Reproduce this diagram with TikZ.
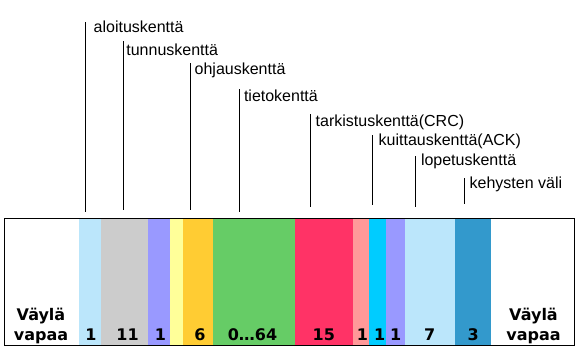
\documentclass[tikz,border=0pt]{standalone}
\usepackage{fontspec}
\setmainfont{Liberation Sans}
\newfontfamily\numfont{DejaVu Sans}
\definecolor{lblue}{HTML}{BBE6FB}
\definecolor{lgray}{HTML}{CCCCCC}
\definecolor{lpurple}{HTML}{9999FF}
\definecolor{lyellow}{HTML}{FFFF99}
\definecolor{lorange}{HTML}{FFCC33}
\definecolor{lgreen}{HTML}{66CC66}
\definecolor{lred}{HTML}{FF3366}
\definecolor{lpink}{HTML}{FF9999}
\definecolor{lcyan}{HTML}{00CCFF}
\definecolor{dblue}{HTML}{3399CC}
\begin{document}
\begin{tikzpicture}[x=1pt,y=-1pt,
  band/.style={rectangle,draw=none,inner sep=0pt,outer sep=0pt,minimum height=126.5pt,anchor=north west},
  num/.style={inner sep=0pt,anchor=base,font=\numfont\bfseries\fontsize{16}{20}\selectfont},
  lab/.style={inner sep=0pt,anchor=base west,font=\fontsize{16}{19}\selectfont},
  leader/.style={draw=black,line width=0.9pt}]
\useasboundingbox (0,0) rectangle (583,362);
% bands
\foreach \n/\a/\b/\c in {b1/79/101/lblue, b2/101/148/lgray, b3/148/170/lpurple, b4/170/183/lyellow,
  b5/183/213/lorange, b6/213/295/lgreen, b7/295/353/lred, b8/353/369/lpink, b9/369/386/lcyan,
  b10/386/405/lpurple, b11/405/455/lblue, b12/455/491/dblue}
  \node[band,fill=\c,minimum width={(\b-\a)*1pt}] (\n) at (\a,218.5) {};
% frame
\node[rectangle,draw=black,line width=1.2pt,inner sep=0pt,minimum width=570pt,minimum height=127pt,anchor=north west] (frame) at (4,218.2) {};
% numbers
\node[num] (n1) at (91,340) {1};
\node[num] (n2) at (127.5,340) {11};
\node[num] (n3) at (160.5,340) {1};
\node[num] (n4) at (200,340) {6};
\node[num] (n5) at (252.5,340) {0…64};
\node[num] (n6) at (323.8,340) {15};
\node[num] (n7) at (362.5,340) {1};
\node[num] (n8) at (379.7,340) {1};
\node[num] (n9) at (395.8,340) {1};
\node[num] (n10) at (429.7,340) {7};
\node[num] (n11) at (473.3,340) {3};
\node[num] (vl1) at (41,320) {Väylä};
\node[num] (vl2) at (41,340) {vapaa};
\node[num] (vr1) at (533.5,320) {Väylä};
\node[num] (vr2) at (533.5,340) {vapaa};
% leader lines and labels
\foreach \i/\x/\t/\bt/\tx/\ty/\txt in {
  1/85.7/22/212/93.5/32.3/aloituskenttä,
  2/123.3/41/210/126.2/55/tunnuskenttä,
  3/190.3/63/210/194.5/74.3/ohjauskenttä,
  4/239.3/89/212/243.8/101/tietokenttä,
  5/310.5/114/207/315.5/126/tarkistuskenttä(CRC),
  6/372.3/135/205/378.5/145.7/kuittauskenttä(ACK),
  7/415.3/156/207/420.8/165.3/lopetuskenttä,
  8/464/178/204/469.5/188.3/kehysten väli}
{
  \coordinate (t\i) at (\x,\t);
  \coordinate (d\i) at (\x,\bt);
  \draw[leader] (t\i) -- (d\i);
  \node[lab] (l\i) at (\tx,\ty) {\txt};
}
\end{tikzpicture}
\end{document}
